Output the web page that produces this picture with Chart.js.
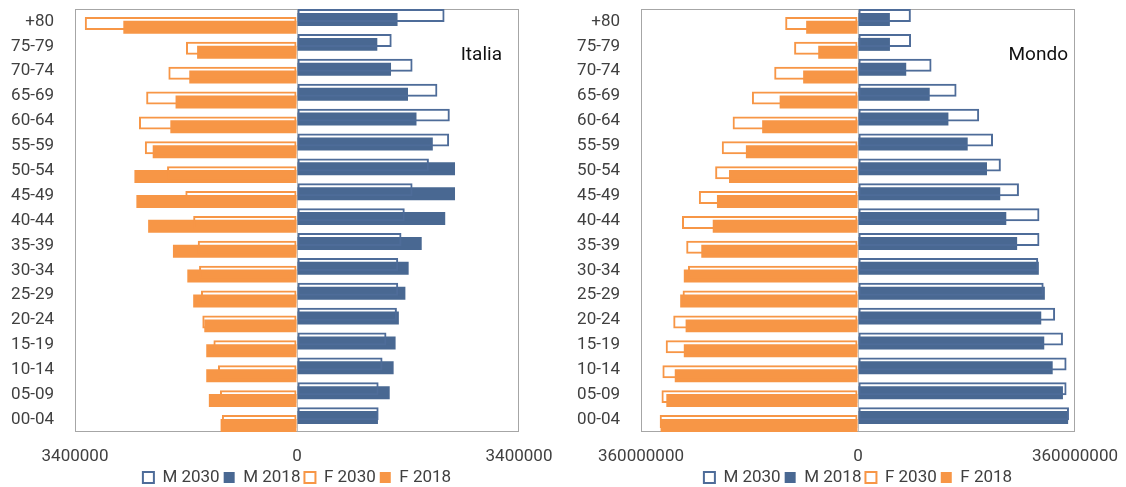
<!DOCTYPE html>
<html>
<head>
<meta charset="utf-8">
<script src="https://cdn.jsdelivr.net/npm/chart.js@4"></script>
<style>
  body { margin: 0; background: #fff; }
  .box { position: absolute; top: 0; height: 487px; }
  #leftBox { left: 0; width: 560px; }
  #rightBox { left: 560px; width: 566px; }
</style>
</head>
<body>
<div class="box" id="leftBox"><canvas id="italia"></canvas></div>
<div class="box" id="rightBox"><canvas id="mondo"></canvas></div>
<script>
const ageGroups = ['+80', '75-79', '70-74', '65-69', '60-64', '55-59', '50-54', '45-49',
  '40-44', '35-39', '30-34', '25-29', '20-24', '15-19', '10-14', '05-09', '00-04'];

// Italia
const italiaM2030 = [2260000, 1450000, 1770000, 2150000, 2340000, 2330000, 2020000, 1770000,
  1650000, 1600000, 1550000, 1550000, 1530000, 1370000, 1310000, 1250000, 1250000];
const italiaM2018 = [1540000, 1230000, 1440000, 1700000, 1830000, 2080000, 2420000, 2420000,
  2270000, 1910000, 1710000, 1660000, 1560000, 1510000, 1480000, 1420000, 1240000];
const italiaF2030 = [3250000, 1700000, 1970000, 2310000, 2420000, 2330000, 1990000, 1710000,
  1590000, 1520000, 1500000, 1470000, 1450000, 1280000, 1210000, 1180000, 1150000];
const italiaF2018 = [2660000, 1530000, 1650000, 1860000, 1940000, 2210000, 2490000, 2460000,
  2280000, 1900000, 1680000, 1590000, 1420000, 1390000, 1390000, 1350000, 1170000];

// Mondo
const mondoM2030 = [87700000, 88000000, 122000000, 163500000, 201000000, 224000000, 237000000, 267000000,
  301000000, 301000000, 299000000, 308000000, 327000000, 340000000, 346000000, 346000000, 350000000];
const mondoM2018 = [52900000, 53000000, 80000000, 119000000, 150000000, 182000000, 214000000, 236000000,
  246000000, 264000000, 300000000, 310000000, 304000000, 309000000, 323000000, 340000000, 348600000];
const mondoF2030 = [120800000, 106000000, 139000000, 176000000, 208000000, 226000000, 237000000, 264000000,
  292000000, 285000000, 282000000, 291000000, 306500000, 319000000, 324500000, 326000000, 329000000];
const mondoF2018 = [86000000, 66000000, 91000000, 130000000, 159000000, 186000000, 214000000, 234000000,
  241000000, 260000000, 289000000, 295000000, 286000000, 289000000, 304000000, 318000000, 327500000];

const italiaLimit = 3400000;
const mondoLimit = 360000000;

const BLUE = '#496892';
const BLUE_LINE = '#4e6c99';
const ORANGE = '#f79646';

Chart.defaults.font.family = 'Roboto';
Chart.defaults.font.size = 17;
Chart.defaults.color = '#404040';

// frame round the plot area + the country name inside it
const framePlugin = {
  id: 'frame',
  beforeDatasetsDraw(chart) {
    const { ctx, chartArea: a } = chart;
    ctx.save();
    ctx.strokeStyle = '#a6a6a6';
    ctx.lineWidth = 1;
    ctx.strokeRect(a.left + 0.5, a.top + 0.5, a.right - a.left - 1, a.bottom - a.top - 1);
    ctx.restore();
  },
  afterDatasetsDraw(chart, args, opts) {
    const { ctx, chartArea: a } = chart;
    ctx.save();
    ctx.font = '19px Roboto';
    ctx.fillStyle = '#111';
    ctx.textAlign = 'right';
    ctx.textBaseline = 'middle';
    ctx.fillText(opts.text, a.right - opts.right, a.top + 46);
    ctx.restore();
  }
};

function makePyramid(id, title, titleRight, limit, m2030, m2018, f2030, f2018, rightPad, axisWidth) {
  const neg = arr => arr.map(v => -v);
  const common = {
    categoryPercentage: 0.627,
    barPercentage: 3.33,
    borderSkipped: false
  };
  return new Chart(document.getElementById(id), {
    type: 'bar',
    data: {
      labels: ageGroups,
      datasets: [
        { label: 'M 2030', data: m2030, backgroundColor: 'rgba(255,255,255,0)', borderColor: BLUE_LINE, borderWidth: 2, ...common },
        { label: 'M 2018', data: m2018, backgroundColor: BLUE, borderColor: BLUE, borderWidth: 0, ...common },
        { label: 'F 2030', data: neg(f2030), backgroundColor: 'rgba(255,255,255,0)', borderColor: ORANGE, borderWidth: 2, ...common },
        { label: 'F 2018', data: neg(f2018), backgroundColor: ORANGE, borderColor: ORANGE, borderWidth: 0, ...common }
      ]
    },
    options: {
      indexAxis: 'y',
      responsive: true,
      maintainAspectRatio: false,
      animation: false,
      layout: { padding: { top: 9, right: rightPad, left: 0, bottom: -9 } },
      scales: {
        x: {
          min: -limit,
          max: limit,
          ticks: {
            stepSize: limit,
            padding: 15,
            maxRotation: 0,
            callback: v => String(Math.abs(v))
          },
          grid: {
            drawTicks: false,
            color: c => (c.tick && c.tick.value === 0) ? '#bfbfbf' : 'rgba(0,0,0,0)'
          },
          border: { display: false },
          afterFit: s => { s.height = 33; s.paddingLeft = 0; s.paddingRight = 0; }
        },
        y: {
          ticks: { padding: 21, autoSkip: false },
          grid: { display: false, drawTicks: false },
          border: { display: false },
          afterFit: s => { s.width = axisWidth; s.paddingTop = 0; s.paddingBottom = 0; }
        }
      },
      plugins: {
        tooltip: { enabled: false },
        frame: { text: title, right: titleRight },
        legend: {
          position: 'bottom',
          fullSize: false,
          labels: {
            boxWidth: 11,
            boxHeight: 11,
            padding: 4,
            color: '#404040'
          }
        }
      }
    },
    plugins: [framePlugin]
  });
}

makePyramid('italia', 'Italia', 17, italiaLimit, italiaM2030, italiaM2018, italiaF2030, italiaF2018, 41, 75);
makePyramid('mondo', 'Mondo', 7, mondoLimit, mondoM2030, mondoM2018, mondoF2030, mondoF2018, 51, 81);
</script>
</body>
</html>
